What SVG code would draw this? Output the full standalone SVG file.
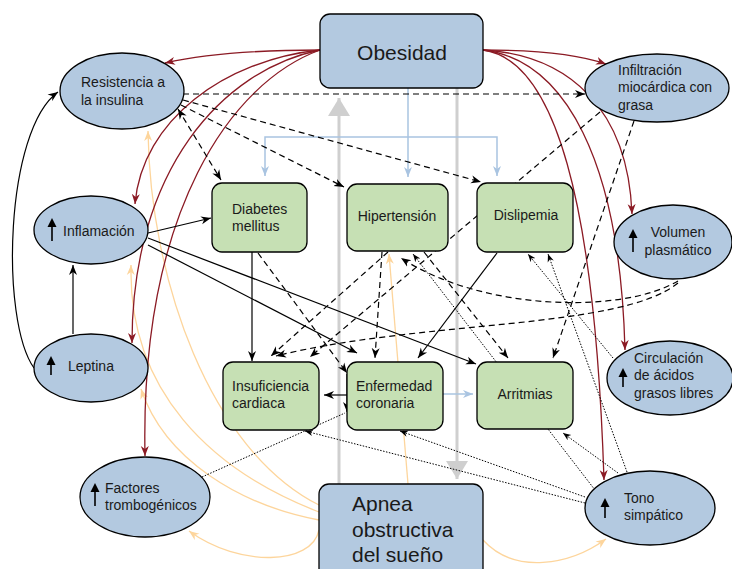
<svg xmlns="http://www.w3.org/2000/svg" width="732" height="569" viewBox="0 0 732 569">
<defs>
<style>
.ell{fill:#b3c9e0;stroke:#000;stroke-width:1.3}
.box{fill:#c6e0b4;stroke:#000;stroke-width:1.3}
.blu{fill:#b3c9e0;stroke:#000;stroke-width:1.3}
text{font-family:"Liberation Sans",Arial,sans-serif;font-size:14px;fill:#1a1a1a}
.big{font-size:21px}
.mid{text-anchor:middle}
.c{fill:none}
.k{stroke:#000;stroke-width:1.2;marker-end:url(#ak)}
.kd{stroke:#000;stroke-width:1.2;stroke-dasharray:6,4;marker-end:url(#ak)}
.kt{stroke:#000;stroke-width:1;stroke-dasharray:1.5,1.5;marker-end:url(#aks)}
.r{stroke:#8b1a24;stroke-width:1.3;marker-end:url(#ar)}
.o{stroke:#fdd59c;stroke-width:1.3;marker-end:url(#ao)}
.b{stroke:#a9c4e1;stroke-width:1.5}
.ba{marker-end:url(#ab)}
.g{stroke:#cfcfcf;stroke-width:3;marker-end:url(#ag)}
.up{stroke:#000;stroke-width:1.6}
</style>
<marker id="ak" viewBox="0 0 10 10" refX="10" refY="5" markerWidth="10" markerHeight="10" markerUnits="userSpaceOnUse" orient="auto-start-reverse"><path d="M0,1 L10,5 L0,9 L3,5 z" fill="#000"/></marker>
<marker id="aks" viewBox="0 0 10 10" refX="10" refY="5" markerWidth="8" markerHeight="8" markerUnits="userSpaceOnUse" orient="auto"><path d="M0,1 L10,5 L0,9 L3,5 z" fill="#000"/></marker>
<marker id="ar" viewBox="0 0 10 10" refX="10" refY="5" markerWidth="10" markerHeight="10" markerUnits="userSpaceOnUse" orient="auto"><path d="M0,1 L10,5 L0,9 L3,5 z" fill="#8b1a24"/></marker>
<marker id="ao" viewBox="0 0 10 10" refX="10" refY="5" markerWidth="10" markerHeight="10" markerUnits="userSpaceOnUse" orient="auto"><path d="M0,1 L10,5 L0,9 L3,5 z" fill="#fdd59c"/></marker>
<marker id="ab" viewBox="0 0 10 10" refX="10" refY="5" markerWidth="10" markerHeight="10" markerUnits="userSpaceOnUse" orient="auto"><path d="M0,1 L10,5 L0,9 L3,5 z" fill="#a9c4e1"/></marker>
<marker id="ag" viewBox="0 0 18 22" refX="18" refY="11" markerWidth="18" markerHeight="22" markerUnits="userSpaceOnUse" orient="auto"><path d="M0,0 L18,11 L0,22 z" fill="#cfcfcf"/></marker>
</defs>
<rect width="732" height="569" fill="#fff"/>
<g id="connectors" class="c">
<!-- gray -->
<path class="g" d="M339,484 L339,98"/>
<path class="g" d="M457,88 L457,479"/>
<!-- light blue -->
<path class="b ba" d="M408,88 L408,177"/>
<path class="b ba" d="M408,137 L265,137 L265,176"/>
<path class="b ba" d="M408,137 L497,137 L497,176"/>
<path class="b ba" d="M443,394 L473,394"/>
<!-- orange from Apnea -->
<path class="o" d="M408,484 L389,254"/>
<path class="o" d="M319,505 C210,450 150,280 148,131"/>
<path class="o" d="M319,512 C210,470 128,390 131,265"/>
<path class="o" d="M319,520 C240,505 165,460 141,389"/>
<path class="o" d="M319,530 C312,565 240,568 189,531"/>
<path class="o" d="M483,540 C515,575 570,565 606,539"/>
<!-- dark red from Obesidad -->
<path class="r" d="M320,50 C260,50 205,54 165,63"/>
<path class="r" d="M320,50 C225,60 142,120 135,204"/>
<path class="r" d="M320,50 C222,70 132,170 132,343"/>
<path class="r" d="M320,50 C232,82 140,210 145,456"/>
<path class="r" d="M483,50 C540,50 580,55 606,64"/>
<path class="r" d="M483,50 C570,55 628,110 632,214"/>
<path class="r" d="M483,50 C565,60 620,160 625,350"/>
<path class="r" d="M483,50 C555,60 595,200 604,480"/>
<!-- black solid -->
<path class="k" d="M73,334 L73,265"/>
<path class="k" d="M34,368 C0,320 5,130 58,92"/>
<path class="k" d="M148,233 L211,218"/>
<path class="k" d="M148,245 L357,353"/>
<path class="k" d="M148,238 L476,364"/>
<path class="k" d="M252,252 L252,361"/>
<path class="k" d="M497,253 L418,358"/>
<path class="k" d="M347,374 L347,412"/>
<path class="k" d="M347,395 L324,395"/>
<!-- black dashed -->
<path class="kd" d="M183,94 L585,94"/>
<path class="kd" d="M178,109 L221,180" style="marker-start:url(#ak)"/>
<path class="kd" d="M181,105 L344,187"/>
<path class="kd" d="M183,100 L481,182"/>
<path class="kd" d="M258,253 L347,373"/>
<path class="kd" d="M388,252 L271,356"/>
<path class="kd" d="M382,252 L375,358"/>
<path class="kd" d="M424,252 L508,358"/>
<path class="kd" d="M600,112 L310,357"/>
<path class="kd" d="M634,121 L553,358"/>
<path class="kd" d="M678,281 C620,315 480,310 401,258"/>
<path class="kd" d="M678,283 C620,330 420,320 276,356"/>
<!-- dotted -->
<path class="kt" d="M585,497 L400,431"/>
<path class="kt" d="M585,503 L305,431"/>
<path class="kt" d="M618,473 L563,433"/>
<path class="kt" d="M595,490 L413,254"/>
<path class="kt" d="M627,472 L548,254"/>
<path class="kt" d="M613,358 L528,254"/>
<path class="kt" d="M202,477 L345,413" style="marker-end:none"/>
</g>
<g id="obesidad"><rect class="blu" x="320" y="14" width="163" height="74" rx="10"/><text class="big mid" x="402" y="60">Obesidad</text></g>
<g id="apnea"><rect class="blu" x="319" y="484" width="164" height="100" rx="10"/><text class="big" x="352" y="511">Apnea</text><text class="big" x="352" y="537">obstructiva</text><text class="big" x="352" y="562">del sueño</text></g>
<g id="resistencia"><ellipse class="ell" cx="122" cy="91" rx="62" ry="38"/><text x="81" y="87">Resistencia a</text><text x="81" y="105">la insulina</text></g>
<g id="infiltracion"><ellipse class="ell" cx="657" cy="88" rx="72" ry="34"/><text x="618" y="75">Infiltración</text><text x="618" y="92">miocárdica con</text><text x="618" y="110">grasa</text></g>
<g id="inflamacion"><ellipse class="ell" cx="91" cy="230" rx="57" ry="34"/><line class="up" x1="52" y1="241" x2="52" y2="225"/><polygon points="52,218 47.5,227 56.5,227"/><text x="63" y="236">Inflamación</text></g>
<g id="leptina"><ellipse class="ell" cx="91" cy="368" rx="57" ry="34"/><line class="up" x1="51" y1="375" x2="51" y2="363"/><polygon points="51,356 46.5,365 55.5,365"/><text x="68" y="371">Leptina</text></g>
<g id="factores"><ellipse class="ell" cx="145" cy="497" rx="65" ry="40"/><line class="up" x1="95" y1="506" x2="95" y2="490"/><polygon points="95,483 90.5,492 99.5,492"/><text x="105" y="493">Factores</text><text x="105" y="510">trombogénicos</text></g>
<g id="volumen"><ellipse class="ell" cx="673" cy="242" rx="59" ry="37"/><line class="up" x1="633" y1="252" x2="633" y2="236"/><polygon points="633,229 628.5,238 637.5,238"/><text class="mid" x="678" y="237">Volumen</text><text class="mid" x="678" y="255">plasmático</text></g>
<g id="circulacion"><ellipse class="ell" cx="670" cy="378" rx="63" ry="37"/><line class="up" x1="623" y1="387" x2="623" y2="375"/><polygon points="623,368 618.5,377 627.5,377"/><text x="634" y="363">Circulación</text><text x="634" y="380">de ácidos</text><text x="634" y="398">grasos libres</text></g>
<g id="tono"><ellipse class="ell" cx="650" cy="508" rx="65" ry="37"/><line class="up" x1="605" y1="518" x2="605" y2="505"/><polygon points="605,498 600.5,507 609.5,507"/><text x="624" y="503">Tono</text><text x="624" y="520">simpático</text></g>
<g id="diabetes"><rect class="box" x="212" y="183" width="95" height="69" rx="10"/><text x="232" y="214">Diabetes</text><text x="232" y="231">mellitus</text></g>
<g id="hipertension"><rect class="box" x="347" y="184" width="101" height="67" rx="10"/><text class="mid" x="397" y="221">Hipertensión</text></g>
<g id="dislipemia"><rect class="box" x="477" y="183" width="96" height="69" rx="10"/><text class="mid" x="526" y="220">Dislipemia</text></g>
<g id="insuficiencia"><rect class="box" x="223" y="362" width="96" height="68" rx="10"/><text x="232" y="391">Insuficiencia</text><text x="232" y="408">cardiaca</text></g>
<g id="enfermedad"><rect class="box" x="347" y="362" width="96" height="68" rx="10"/><text x="356" y="391">Enfermedad</text><text x="356" y="408">coronaria</text></g>
<g id="arritmias"><rect class="box" x="477" y="362" width="96" height="67" rx="10"/><text class="mid" x="525" y="399">Arritmias</text></g>
</svg>
